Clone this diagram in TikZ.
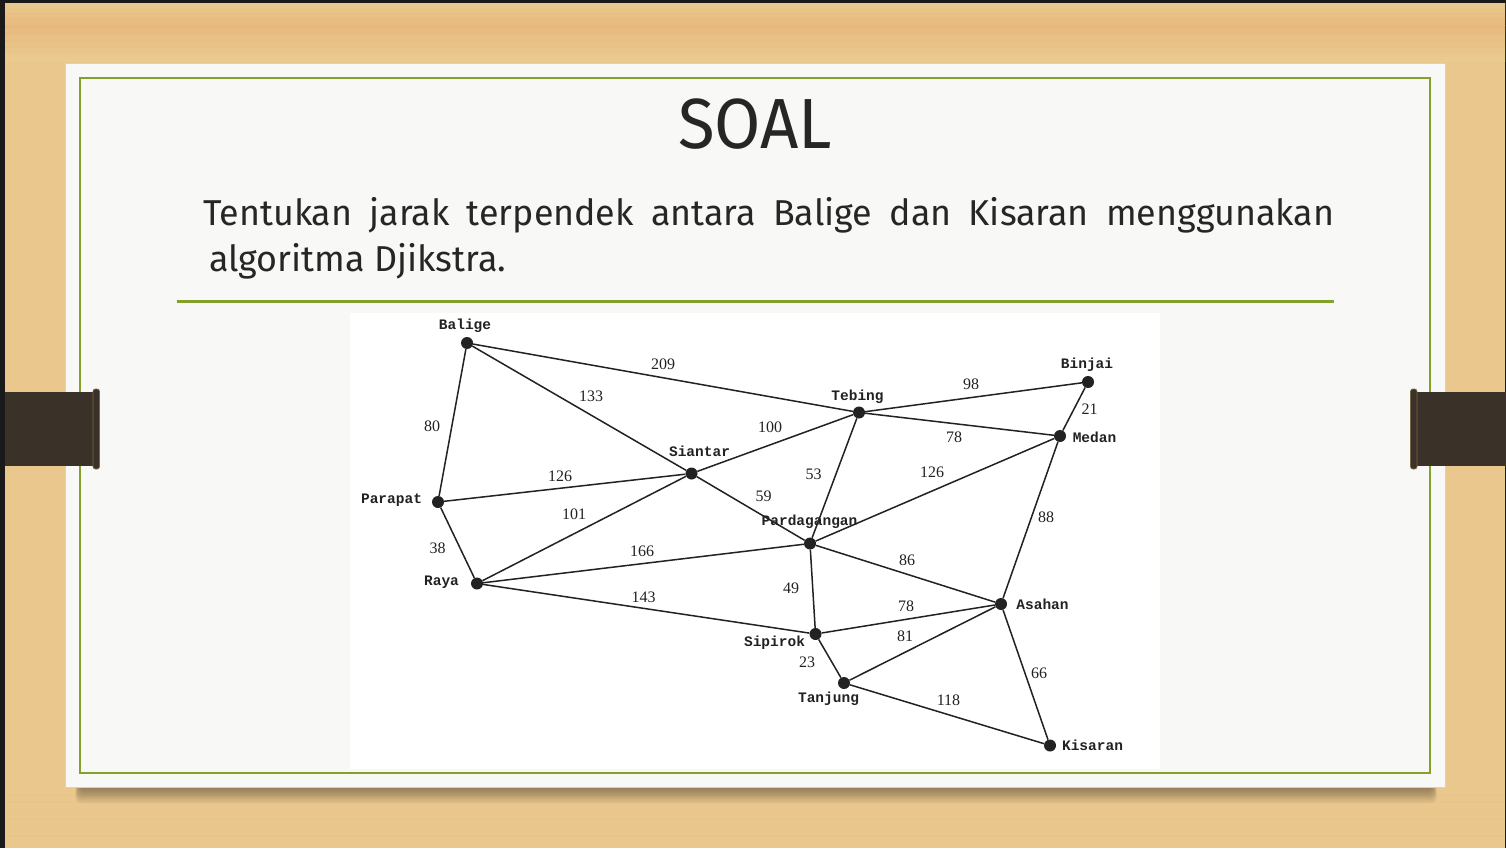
\documentclass[tikz,border=0pt]{standalone}
\usepackage{fontspec}
\usepackage{graphicx}
\setmainfont{Fira Sans}
\newfontfamily\cityfont{Liberation Mono}
\newfontfamily\weightfont{Liberation Serif}
\usetikzlibrary{calc}

\definecolor{woodA}{HTML}{EAC88D}
\definecolor{woodB}{HTML}{E8BA80}
\definecolor{woodC}{HTML}{EBCB91}
\definecolor{card}{HTML}{F8F8F7}
\definecolor{cardedge}{HTML}{D9D2C2}
\definecolor{olive}{HTML}{84A22B}
\definecolor{tab}{HTML}{3A3129}
\definecolor{tabedge}{HTML}{7A6448}
\definecolor{ink}{HTML}{262626}
\definecolor{graphink}{HTML}{222222}
\definecolor{frame}{HTML}{1A1A1A}

\newlength\natw

\tikzset{
  city/.style={circle, fill=graphink, inner sep=0pt, minimum size=12pt},
  cityname/.style={font=\cityfont\bfseries\fontsize{14.5}{16}\selectfont, text=graphink, inner sep=0pt},
  weight/.style={font=\weightfont\fontsize{16}{18}\selectfont, text=graphink, inner sep=0pt},
  road/.style={draw=graphink, line width=1.5pt},
}

\begin{document}
% horizontal squeeze so the question lines keep their set widths
\settowidth\natw{\fontsize{36}{42}\selectfont algoritma Djikstra.}
\pgfmathsetmacro\sx{297/\natw}
\pgfmathsetmacro\wA{1131/\sx}
\begin{tikzpicture}[x=1pt, y=-1pt]
\useasboundingbox (0,0) rectangle (1506,848);

% ---- wooden backdrop ----
\fill[frame] (0,0) rectangle (1506,848);
\fill[woodA] (5,4) rectangle (1505,848);
\shade[top color=woodA, bottom color=woodB] (5,4) rectangle (1505,26);
\shade[top color=woodB, bottom color=woodC] (5,26) rectangle (1505,62);
\foreach \yy/\op in {14/0.04, 19/0.035, 27/0.035, 33/0.03, 41/0.03, 47/0.025, 52/0.025,
                     795/0.025, 802/0.025, 811/0.02, 819/0.025, 828/0.02, 836/0.025}
  \draw[brown, opacity=\op, line width=1.2pt] (5,\yy) -- (1505,\yy);

% ---- soft shadow under the card ----
\foreach \i in {1,...,16}
  \fill[black, opacity=0.028, rounded corners=6pt] ({80-0.3*\i},780) rectangle ({1432+0.3*\i},{786+1.1*\i});

% ---- slide card ----
\fill[card, draw=cardedge, line width=0.8pt] (65,63) rectangle (1445,787);
\draw[olive, line width=2.4pt] (80,78) rectangle (1430,773);

% ---- heading and question ----
\node[anchor=base, text=ink, inner sep=0pt] (title) at (755,149)
  {\resizebox{154pt}{\height}{\fontsize{71}{80}\selectfont SOAL}};

\node[anchor=base west, text=ink, inner sep=0pt] (lineone) at (203,225)
  {\scalebox{\sx}[1]{\fontsize{36}{42}\selectfont\makebox[\wA pt][s]{Tentukan jarak terpendek antara Balige dan Kisaran menggunakan}}};
\node[anchor=base west, text=ink, inner sep=0pt] (linetwo) at (209,271)
  {\scalebox{\sx}[1]{\fontsize{36}{42}\selectfont algoritma Djikstra.}};

\draw[olive, line width=2.2pt] (177,301.5) -- (1334,301.5);

% ---- road map ----
\fill[white] (350,313) rectangle (1160,769);

\node[city] (balige)  at (467,343) {};
\node[city] (binjai)  at (1088,382) {};
\node[city] (tebing)  at (859,412.5) {};
\node[city] (medan)   at (1060,436) {};
\node[city] (siantar) at (691.5,473.5) {};
\node[city] (parapat) at (438,502) {};
\node[city] (pardag)  at (810,543.5) {};
\node[city] (raya)    at (477,583.5) {};
\node[city] (asahan)  at (1001,604) {};
\node[city] (sipirok) at (815.5,634) {};
\node[city] (tanjung) at (844,683) {};
\node[city] (kisaran) at (1050,745.5) {};

\draw[road] (balige) -- (tebing);
\draw[road] (balige) -- (siantar);
\draw[road] (balige) -- (parapat);
\draw[road] (parapat) -- (siantar);
\draw[road] (parapat) -- (raya);
\draw[road] (raya) -- (siantar);
\draw[road] (raya) -- (pardag);
\draw[road] (raya) -- (sipirok);
\draw[road] (siantar) -- (tebing);
\draw[road] (siantar) -- (pardag);
\draw[road] (tebing) -- (binjai);
\draw[road] (tebing) -- (medan);
\draw[road] (binjai) -- (medan);
\draw[road] (tebing) -- (pardag);
\draw[road] (pardag) -- (medan);
\draw[road] (medan) -- (asahan);
\draw[road] (pardag) -- (asahan);
\draw[road] (pardag) -- (sipirok);
\draw[road] (sipirok) -- (asahan);
\draw[road] (sipirok) -- (tanjung);
\draw[road] (tanjung) -- (asahan);
\draw[road] (tanjung) -- (kisaran);
\draw[road] (asahan) -- (kisaran);

% city names
\node[cityname] (nbalige)  at (465,326) {Balige};
\node[cityname] (nbinjai)  at (1087,364.5) {Binjai};
\node[cityname] (ntebing)  at (857.5,396.5) {Tebing};
\node[cityname] (nmedan)   at (1094.5,437.5) {Medan};
\node[cityname] (nsiantar) at (699.5,451.5) {Siantar};
\node[cityname] (nparapat) at (391.5,500) {Parapat};
\node[cityname] (npardag)  at (809.5,521.5) {Pardagangan};
\node[cityname] (nraya)    at (441.5,582.5) {Raya};
\node[cityname] (nasahan)  at (1042.5,604.5) {Asahan};
\node[cityname] (nsipirok) at (774.5,643) {Sipirok};
\node[cityname] (ntanjung) at (828.5,699) {Tanjung};
\node[cityname] (nkisaran) at (1092.5,745.5) {Kisaran};

% distances
\node[weight] (w209)  at (663,364) {209};
\node[weight] (w133)  at (591,396) {133};
\node[weight] (w80)   at (432,426) {80};
\node[weight] (w126a) at (560,476) {126};
\node[weight] (w101)  at (574,514.5) {101};
\node[weight] (w98)   at (971,384) {98};
\node[weight] (w21)   at (1089.5,409) {21};
\node[weight] (w100)  at (770,427.5) {100};
\node[weight] (w78a)  at (954,437.5) {78};
\node[weight] (w53)   at (813.5,474) {53};
\node[weight] (w126b) at (932,472.5) {126};
\node[weight] (w59)   at (763.5,496) {59};
\node[weight] (w88)   at (1046,517) {88};
\node[weight] (w38)   at (437.5,548.5) {38};
\node[weight] (w166)  at (642,551) {166};
\node[weight] (w143)  at (643.5,597) {143};
\node[weight] (w86)   at (907,560) {86};
\node[weight] (w49)   at (791,588.5) {49};
\node[weight] (w78b)  at (906,606) {78};
\node[weight] (w81)   at (905,636) {81};
\node[weight] (w23)   at (807,662.5) {23};
\node[weight] (w66)   at (1039,673) {66};
\node[weight] (w118)  at (948.5,700.5) {118};

% ---- binder tabs ----
\fill[tab] (5,392) rectangle (97,466);
\fill[tab, draw=tabedge, line width=0.8pt, rounded corners=2.5pt] (93,389) rectangle (99.5,469);
\fill[tab] (1413,392) rectangle (1506,466);
\fill[tab, draw=tabedge, line width=0.8pt, rounded corners=2.5pt] (1410.5,389) rectangle (1417,469);
\end{tikzpicture}
\end{document}
